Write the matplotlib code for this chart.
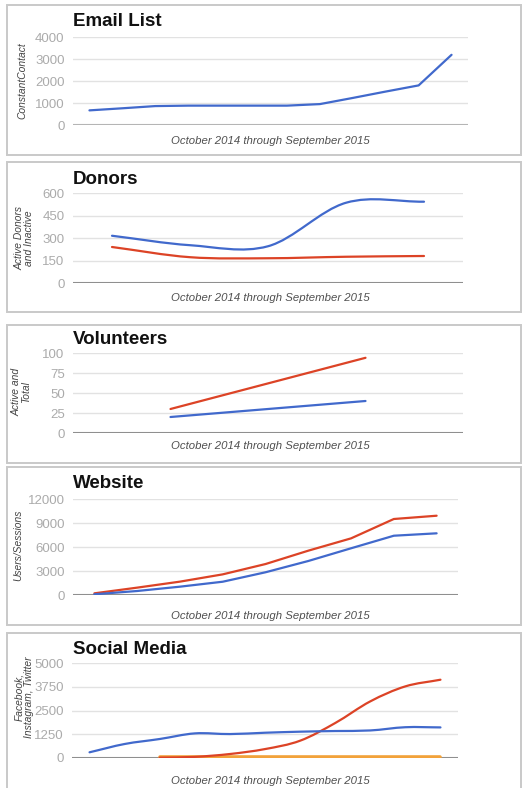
import matplotlib
matplotlib.use('Agg')
import matplotlib.pyplot as plt
from matplotlib.patches import Rectangle, PathPatch
from matplotlib.path import Path
import numpy as np

plt.rcParams['font.family'] = ['Liberation Sans', 'DejaVu Sans']

W, H = 523, 788
BLUE = '#4169cc'
RED = '#dc4326'
ORANGE = '#f2a23a'
XLABEL = 'October 2014 through September 2015'

# ---- data ----
email_list = [665, 760, 860, 880, 880, 880, 880, 950, 1230, 1520, 1800, 3190]

donors_total = [315, 252, 245, 535, 542]
donors_active = [240, 172, 165, 175, 180]

volunteers_total = [30, 94]
volunteers_active = [20, 40]

website_sessions = [210, 920, 1670, 2580, 3870, 5540, 7080, 9500, 9910]
website_users = [90, 500, 1040, 1660, 2840, 4250, 5840, 7410, 7710]

social_facebook = [300, 737, 1000, 1295, 1260, 1330, 1385, 1420, 1450, 1620, 1610]
social_instagram = [None, None, 20, 60, 210, 470, 910, 1840, 2980, 3770, 4120]
social_twitter = [None, None, 50, 50, 50, 50, 50, 50, 50, 50, 50]

fig = plt.figure(figsize=(W / 100, H / 100), dpi=100)


def fx(x):
    return x / W


def fy(y):
    return 1 - y / H


def panel_box(top, bottom):
    fig.patches.append(Rectangle((fx(7), fy(bottom)), fx(514), (bottom - top) / H,
                                 transform=fig.transFigure, fill=False,
                                 edgecolor='#c9c9c9', linewidth=1.4))


def make_axes(x0, y0, x1, y1, ymax, yticks, n, base='#8f8f8f'):
    ax = fig.add_axes([fx(x0), fy(y1), (x1 - x0) / W, (y1 - y0) / H])
    ax.set_xlim(-0.5, n - 0.5)
    ax.set_ylim(0, ymax)
    ax.set_yticks(yticks)
    ax.set_yticklabels([f'{t:g}' for t in yticks])
    ax.set_xticks([])
    ax.tick_params(axis='y', length=0, pad=6, labelsize=9.5, labelcolor='#ababab')
    for s in ax.spines.values():
        s.set_visible(False)
    ax.grid(True, axis='y', color='#e2e2e2', linewidth=1.0)
    ax.set_axisbelow(True)
    ax.axhline(0, color=base, linewidth=1.5, zorder=2)
    return ax


def smooth_line(ax, xs, ys, color, lw=1.6):
    xs = np.asarray(xs, float)
    ys = np.asarray(ys, float)
    verts = [(xs[0], ys[0])]
    codes = [Path.MOVETO]
    n = len(xs)
    for i in range(n - 1):
        p0 = i - 1 if i > 0 else i
        p3 = i + 2 if i + 2 < n else i + 1
        m1 = (ys[i + 1] - ys[p0]) / (xs[i + 1] - xs[p0])
        m2 = (ys[p3] - ys[i]) / (xs[p3] - xs[i])
        dx = (xs[i + 1] - xs[i]) / 3
        verts += [(xs[i] + dx, ys[i] + m1 * dx),
                  (xs[i + 1] - dx, ys[i + 1] - m2 * dx),
                  (xs[i + 1], ys[i + 1])]
        codes += [Path.CURVE4] * 3
    ax.add_patch(PathPatch(Path(verts, codes), fill=False, edgecolor=color,
                           linewidth=lw, capstyle='round', zorder=3))


def straight_line(ax, ys, color, lw=1.6):
    pts = [(i, v) for i, v in enumerate(ys) if v is not None]
    ax.plot([p[0] for p in pts], [p[1] for p in pts], color=color, linewidth=lw,
            solid_capstyle='round', zorder=3)


def labels(title, ty, ylab, ylx, yly, xly):
    fig.text(fx(73), fy(ty), title, fontsize=13.5, fontweight='bold',
             ha='left', va='center', color='#111111')
    fig.text(fx(ylx), fy(yly), ylab, fontsize=7.4, style='italic', rotation=90,
             ha='center', va='center', multialignment='center', color='#444444',
             linespacing=0.92)
    fig.text(fx(270), fy(xly), XLABEL, fontsize=8.2, style='italic',
             ha='center', va='center', color='#505050')


# ---- Email List ----
panel_box(5, 155)
ax = make_axes(73, 37, 468, 125, 4000, [0, 1000, 2000, 3000, 4000], len(email_list),
               base='#b5b5b5')
straight_line(ax, email_list, BLUE)
labels('Email List', 22, 'ConstantContact', 22, 81, 141)

# ---- Donors ----
panel_box(162, 312)
ax = make_axes(73, 193, 463, 283, 600, [0, 150, 300, 450, 600], len(donors_total))
idx = np.arange(len(donors_total))
smooth_line(ax, idx, donors_total, BLUE)
smooth_line(ax, idx, donors_active, RED)
labels('Donors', 180, 'Active Donors\nand Inactive', 24, 238, 298)

# ---- Volunteers ----
panel_box(325, 463)
ax = make_axes(73, 353, 463, 433, 100, [0, 25, 50, 75, 100], len(volunteers_total))
straight_line(ax, volunteers_total, RED)
straight_line(ax, volunteers_active, BLUE)
labels('Volunteers', 339, 'Active and\nTotal', 21, 392, 446)

# ---- Website ----
panel_box(467, 625)
ax = make_axes(73, 499, 458, 595, 12000, [0, 3000, 6000, 9000, 12000], len(website_sessions))
straight_line(ax, website_sessions, RED)
straight_line(ax, website_users, BLUE)
labels('Website', 484, 'Users/Sessions', 18, 545, 616)

# ---- Social Media ----
panel_box(633, 800)
ax = make_axes(72, 663, 458, 758, 5000, [0, 1250, 2500, 3750, 5000], len(social_facebook))
straight_line(ax, social_twitter, ORANGE, lw=2.6)
smooth_line(ax, np.arange(2, len(social_instagram)), social_instagram[2:], RED)
smooth_line(ax, np.arange(len(social_facebook)), social_facebook, BLUE)
labels('Social Media', 649, 'Facebook,\nInstagram, Twitter', 24, 697, 781)

fig.savefig('out.png', dpi=100)
